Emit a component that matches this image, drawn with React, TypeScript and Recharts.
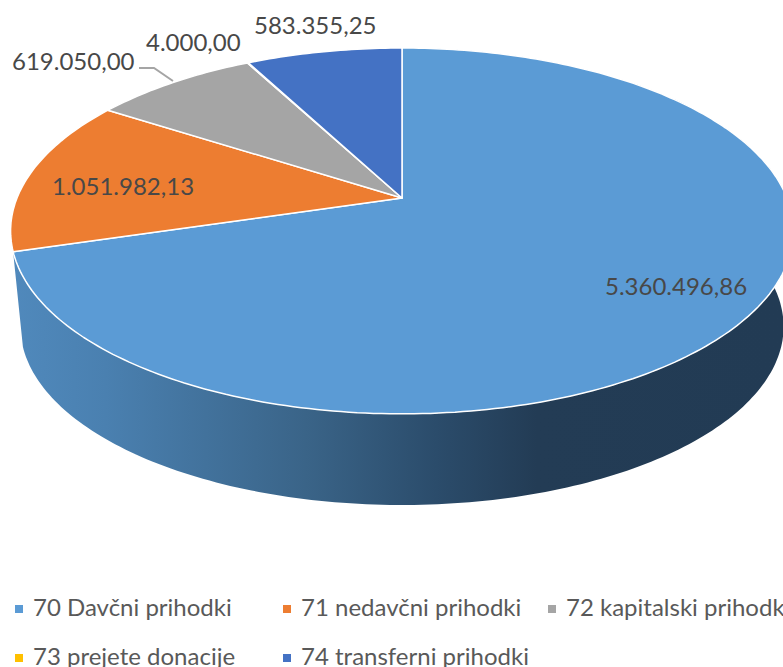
import { PieChart, Pie, Cell, Legend } from "recharts"

const categories = [
  "70 Davčni prihodki",
  "71 nedavčni prihodki",
  "72 kapitalski prihodki",
  "73 prejete donacije",
  "74 transferni prihodki",
]
const amounts = [5360496.86, 1051982.13, 619050.0, 4000.0, 583355.25]
const sliceColors = ["#5B9BD5", "#ED7D31", "#A5A5A5", "#FFC000", "#4472C4"]

// where each data label starts, px
const labelSpots = [
  [605, 285],
  [52, 185],
  [12, 60],
  [146, 41],
  [254, 24],
]
const legendSpots = [
  [15, 607],
  [283, 607],
  [548, 607],
  [15, 656],
  [283, 656],
]

const pieData = categories.map((name, i) => ({ name, value: amounts[i] }))

// the pie lies tilted, so the angles go through a small perspective projection
const APEX_X = 402
const APEX_Y = 198
const RADIUS_X = 385
const RADIUS_Y = 177
const TILT = 0.18
const BASE_SCALE = 0.975
const BASE_Y = 294.5

function project(angle: number) {
  const t = ((90 - angle) * Math.PI) / 180
  const u = Math.sin(t)
  const v = -Math.cos(t)
  const w = 1 - TILT * v
  return [APEX_X + (RADIUS_X * u) / w, APEX_Y + (RADIUS_Y * v) / w]
}

function arc(start: number, end: number) {
  const pts: number[][] = []
  const steps = Math.max(2, Math.ceil(Math.abs(end - start)))
  for (let i = 0; i <= steps; i++) {
    pts.push(project(start + ((end - start) * i) / steps))
  }
  return pts
}

function toBase(p: number[]) {
  return [APEX_X + (p[0] - APEX_X) * BASE_SCALE, BASE_Y + (p[1] - APEX_Y) * BASE_SCALE]
}

function toPath(pts: number[][]) {
  return "M" + pts.map((p) => p[0].toFixed(1) + " " + p[1].toFixed(1)).join("L") + "Z"
}

function TopSlice(props: any) {
  const pts = [[APEX_X, APEX_Y], ...arc(props.startAngle, props.endAngle)]
  return <path d={toPath(pts)} fill={props.fill} stroke="#fff" strokeWidth={1.5} strokeLinejoin="round" />
}

function SideWall(props: any) {
  // only a slice facing the viewer shows its side
  if (project(props.midAngle)[1] < APEX_Y) return null
  const top = arc(props.startAngle, props.endAngle)
  const bottom = top.map(toBase).reverse()
  return (
    <g>
      <defs>
        <linearGradient id="wallFill" gradientUnits="userSpaceOnUse" x1={13} y1={0} x2={783} y2={0}>
          <stop offset="0" stopColor="#5089BC" />
          <stop offset="0.12" stopColor="#4A80B0" />
          <stop offset="0.38" stopColor="#3A6488" />
          <stop offset="0.55" stopColor="#2B4C6B" />
          <stop offset="0.68" stopColor="#233C55" />
          <stop offset="1" stopColor="#223B54" />
        </linearGradient>
      </defs>
      <path d={toPath([...top, ...bottom])} fill="url(#wallFill)" />
    </g>
  )
}

function DataLabel(props: any) {
  const [x, y] = labelSpots[props.index]
  const text = props.value.toLocaleString("de-DE", { minimumFractionDigits: 2, maximumFractionDigits: 2 })
  return (
    <g>
      {props.index === 2 && (
        <polyline points="139,68 154,68 173,81" fill="none" stroke="#A5A5A5" strokeWidth={2} />
      )}
      <text x={x} y={y} dominantBaseline="central" fontFamily="Lato" fontSize={24} fill="#484848">
        {text}
      </text>
    </g>
  )
}

function LegendRows(props: any) {
  const items = (props.payload || []).filter((item: any) => item.type !== "none" && item.color)
  return (
    <div style={{ position: "relative", width: 783, height: 667 }}>
      {items.slice(0, legendSpots.length).map((item: any, i: number) => (
        <div
          key={item.value}
          style={{
            position: "absolute",
            left: legendSpots[i][0],
            top: legendSpots[i][1] - 15,
            height: 30,
            lineHeight: "30px",
            whiteSpace: "nowrap",
            fontFamily: "Lato",
            fontSize: 24,
            color: "#595959",
          }}
        >
          <span
            style={{
              display: "inline-block",
              width: 8,
              height: 8,
              marginRight: 10,
              marginBottom: 3,
              background: item.color,
            }}
          />
          {item.value}
        </div>
      ))}
    </div>
  )
}

export default function App() {
  return (
    <div style={{ position: "absolute", left: 0, top: 0, width: 783, height: 667, overflow: "hidden", background: "#fff" }}>
      <PieChart width={783} height={667} margin={{ top: 0, right: 0, bottom: 0, left: 0 }}>
        <Pie
          data={pieData}
          dataKey="value"
          nameKey="name"
          startAngle={90}
          endAngle={-270}
          outerRadius={180}
          legendType="none"
          shape={SideWall}
          isAnimationActive={false}
        />
        <Pie
          data={pieData}
          dataKey="value"
          nameKey="name"
          startAngle={90}
          endAngle={-270}
          outerRadius={180}
          shape={TopSlice}
          label={DataLabel}
          labelLine={false}
          isAnimationActive={false}
        >
          {pieData.map((d, i) => (
            <Cell key={d.name} fill={sliceColors[i]} />
          ))}
        </Pie>
        <Legend content={LegendRows} wrapperStyle={{ left: 0, top: 0, bottom: "auto", width: 783, height: 667, pointerEvents: "none" }} />
      </PieChart>
    </div>
  )
}
